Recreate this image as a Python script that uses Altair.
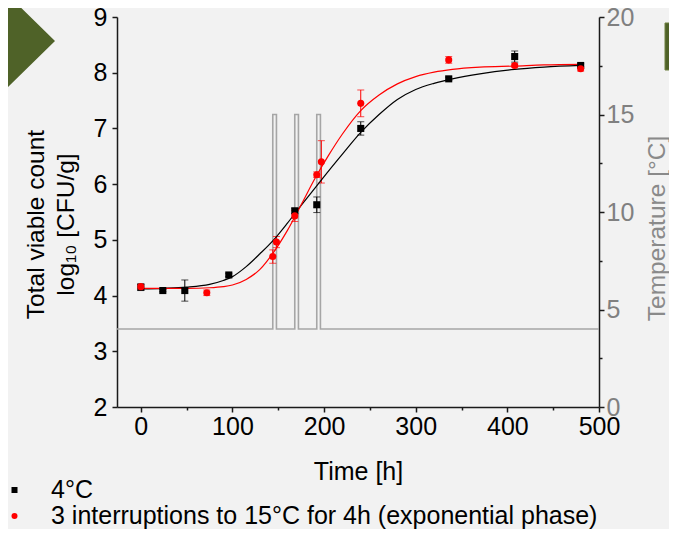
import altair as alt
import pandas as pd

# ---- data ----
series_names = ["4°C", "3 interruptions to 15°C for 4h (exponential phase)"]
series_colors = ["#000000", "#ff0000"]
series_shapes = ["square", "circle"]

t_4c = [0, 24, 48, 96, 168, 192, 240, 336, 408, 480]
log_4c = [4.15, 4.09, 4.09, 4.37, 5.52, 5.63, 7.00, 7.89, 8.29, 8.13]
err_4c = [0.06, 0.02, 0.19, 0.03, 0.05, 0.14, 0.12, 0.03, 0.10, 0.03]

t_int = [0, 72, 144, 148, 168, 192, 197, 240, 336, 408, 480]
log_int = [4.16, 4.05, 4.70, 4.96, 5.43, 6.17, 6.40, 7.45, 8.23, 8.13, 8.07]
err_int = [0.04, 0.05, 0.12, 0.10, 0.10, 0.05, 0.38, 0.24, 0.06, 0.03, 0.04]

t_fit = [0, 25, 50, 75, 90, 100, 115, 130, 145, 160, 175, 190, 205, 220, 240,
         260, 280, 300, 320, 340, 370, 408, 440, 480]
fit_4c = [4.12, 4.13, 4.15, 4.20, 4.27, 4.34, 4.52, 4.75, 5.00, 5.30, 5.62, 5.93,
          6.24, 6.54, 6.93, 7.25, 7.52, 7.70, 7.81, 7.89, 7.98, 8.06, 8.10, 8.13]
fit_int = [4.13, 4.13, 4.13, 4.14, 4.16, 4.19, 4.29, 4.47, 4.78, 5.17, 5.63, 6.10,
           6.52, 6.90, 7.32, 7.60, 7.80, 7.93, 8.01, 8.06, 8.10, 8.12, 8.14, 8.15]

t_temp = [-26, 144, 144, 148, 148, 168, 168, 172, 172, 192, 192, 196, 196, 500]
temp_c = [4, 4, 15, 15, 4, 4, 15, 15, 4, 4, 15, 15, 4, 4]

# ---- tables ----
pts = pd.concat([
    pd.DataFrame({"t": t_4c, "v": log_4c, "e": err_4c, "series": series_names[0]}),
    pd.DataFrame({"t": t_int, "v": log_int, "e": err_int, "series": series_names[1]}),
], ignore_index=True)
pts["lo"] = pts["v"] - pts["e"]
pts["hi"] = pts["v"] + pts["e"]

fits = pd.concat([
    pd.DataFrame({"t": t_fit, "f": fit_4c, "series": series_names[0]}),
    pd.DataFrame({"t": t_fit, "f": fit_int, "series": series_names[1]}),
], ignore_index=True)

temp_df = pd.DataFrame({"t": t_temp, "temp": temp_c, "i": list(range(len(t_temp)))})

FONT = "Liberation Sans"
AX = "#1a1a1a"

x_axis = alt.Axis(
    title="Time [h]", values=list(range(0, 501, 50)), format="d",
    labelExpr="datum.value % 100 === 0 ? datum.label : ''",
    tickSize={"condition": {"test": "datum.value % 100 === 0", "value": 5}, "value": 3},
    labelFontSize=25, labelColor="#000000", labelPadding=2, labelFlush=False,
    labelOverlap=False, titleFontSize=25, titleFontWeight="normal", titleColor="#000000",
    titleBaseline="alphabetic", titleY=72, domainColor=AX, domainWidth=1.5,
    tickColor=AX, tickWidth=1.5, grid=False)

y_axis = alt.Axis(
    orient="left", title=["Total viable count", "log₁₀ [CFU/g]"],
    values=[v / 2 for v in range(4, 19)], format="d",
    labelExpr="datum.value % 1 === 0 ? datum.label : ''",
    tickSize={"condition": {"test": "datum.value % 1 === 0", "value": 5}, "value": 3},
    labelFontSize=25, labelColor="#000000", labelPadding=5, labelFlush=False,
    labelOverlap=False, titleFontSize=24.5, titleFontWeight="normal", titleColor="#000000",
    titleAngle=270, titleAlign="center", titleBaseline="alphabetic", titleX=-74, titleY=207,
    titleLineHeight=30, domainColor=AX, domainWidth=1.5, tickColor=AX, tickWidth=1.5,
    grid=False)

t_axis = alt.Axis(
    orient="right", title="Temperature [°C]",
    values=[v * 2.5 for v in range(0, 9)], format="d",
    labelExpr="datum.value % 5 === 0 ? datum.label : ''",
    tickSize={"condition": {"test": "datum.value % 5 === 0", "value": 5}, "value": 3},
    labelFontSize=25, labelColor="#808080", labelPadding=2, labelFlush=False,
    labelOverlap=False, titleFontSize=24.5, titleFontWeight="normal", titleColor="#8a8a8a",
    titleAngle=270, titleAlign="center", titleBaseline="alphabetic", titleX=65, titleY=211,
    domainColor=AX, domainWidth=1.5, tickColor=AX, tickWidth=1.5, grid=False)

xs = alt.Scale(domain=[-26, 500], nice=False, zero=False)
ys = alt.Scale(domain=[2, 9], nice=False, zero=False)
ts = alt.Scale(domain=[0, 20], nice=False, zero=False)


def X(f):
    return alt.X(f, type="quantitative", scale=xs, axis=x_axis)


def YL(f):
    return alt.Y(f, type="quantitative", scale=ys, axis=y_axis)


legend = alt.Legend(
    orient="none", legendX=-115, legendY=460.5, title=None, labelFontSize=25,
    labelFont=FONT, labelColor="#000000", symbolSize=36, labelOffset=24,
    rowPadding=0, clipHeight=25, labelLimit=1000, padding=0, symbolStrokeWidth=0)

layers = []
# error bars
for name, col in zip(series_names, series_colors):
    base = alt.Chart(pts).transform_filter(alt.datum.series == name)
    layers.append(base.mark_rule(color=col, strokeWidth=1).encode(
        x=X("t"), y=YL("lo"), y2="hi"))
    layers.append(base.mark_tick(color=col, orient="horizontal", size=7, thickness=1).encode(
        x=X("t"), y=YL("lo")))
    layers.append(base.mark_tick(color=col, orient="horizontal", size=7, thickness=1).encode(
        x=X("t"), y=YL("hi")))
# fitted curves
for name, col in zip(series_names, series_colors):
    layers.append(alt.Chart(fits).transform_filter(alt.datum.series == name)
                  .mark_line(color=col, strokeWidth=1.2, interpolate="monotone")
                  .encode(x=X("t"), y=YL("f")))
# data points
layers.append(alt.Chart(pts).mark_point(filled=True, size=50, opacity=1, strokeWidth=0).encode(
    x=X("t"), y=YL("v"),
    color=alt.Color("series:N", scale=alt.Scale(domain=series_names, range=series_colors),
                    legend=legend),
    shape=alt.Shape("series:N", scale=alt.Scale(domain=series_names, range=series_shapes),
                    legend=legend),
))
left = alt.layer(*layers)

temp_chart = alt.Chart(temp_df).mark_line(color="#a6a6a6", strokeWidth=1.6).encode(
    x=X("t"),
    y=alt.Y("temp", type="quantitative", scale=ts, axis=t_axis),
    order=alt.Order("i:Q"),
)

deco = pd.DataFrame({"a": [0]})
arrow = alt.Chart(deco).mark_point(
    shape="M0.5,0L-0.5,-0.98L-0.5,-0.47L-0.9,-0.47L-0.9,0.47L-0.5,0.47L-0.5,0.98Z",
    filled=True, color="#4f6228", opacity=1, size=9216, strokeWidth=0,
).encode(x=alt.value(-86), y=alt.value(24))
box = alt.Chart(deco).mark_rect(color="#4f6228", stroke="#6f8040", strokeWidth=1).encode(
    x=alt.value(548), x2=alt.value(580), y=alt.value(6), y2=alt.value(53))

chart = alt.layer(temp_chart, left, arrow, box).resolve_scale(y="independent").properties(
    width=482, height=390,
    autosize=alt.AutoSizeParams(type="none"),
    padding={"left": 109, "top": 9, "right": 70, "bottom": 122},
).configure(background="#f2f2f2", font=FONT).configure_view(stroke=None)

chart.save("out.html", embed_options={"renderer": "svg", "actions": False})
